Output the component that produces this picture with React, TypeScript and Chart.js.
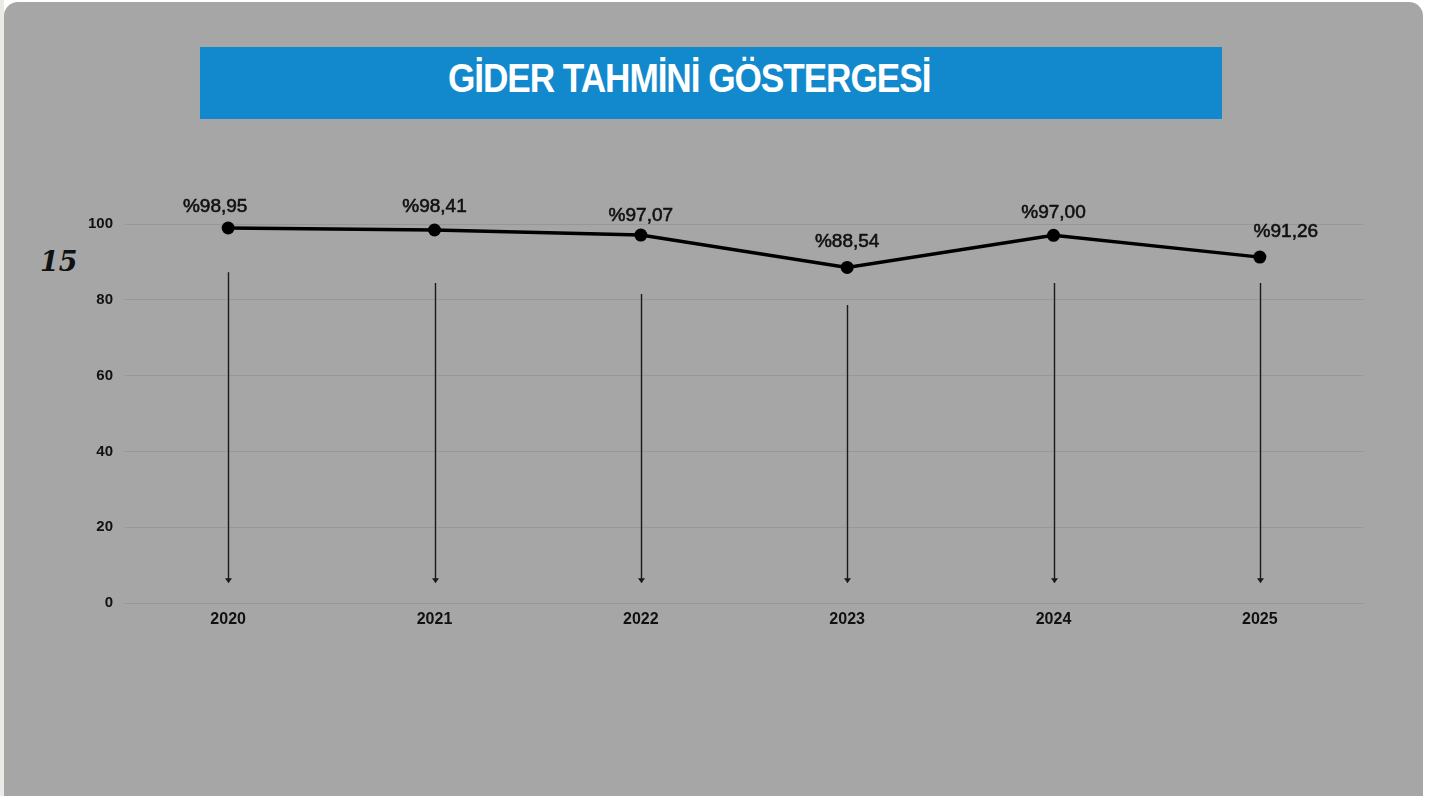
import React, { useEffect, useRef } from "react";
import { Chart, registerables } from "chart.js";

Chart.register(...registerables);

const years = ["2020", "2021", "2022", "2023", "2024", "2025"];
const values = [98.95, 98.41, 97.07, 88.54, 97.0, 91.26];
const valueLabels = ["%98,95", "%98,41", "%97,07", "%88,54", "%97,00", "%91,26"];
const arrowTops = [87.3, 84.4, 81.5, 78.6, 84.4, 84.4];
const arrowTip = 5.2;
const yTicks = [0, 20, 40, 60, 80, 100];

const labelDx = [-13, 0, 0, 0, 0, 26];
const labelDy = [-21, -23, -19, -26, -23, -25];

const decorPlugin = {
  id: "decor",
  afterDatasetsDraw(chart: any) {
    const { ctx, scales } = chart;
    const xs = scales.x;
    const ys = scales.y;
    ctx.save();
    // arrows
    ctx.strokeStyle = "#1a1a1a";
    ctx.fillStyle = "#1a1a1a";
    ctx.lineWidth = 1.4;
    years.forEach((_, i) => {
      const x = Math.round(xs.getPixelForValue(i)) + 0.5;
      const y0 = ys.getPixelForValue(arrowTops[i]);
      const y1 = ys.getPixelForValue(arrowTip);
      ctx.beginPath();
      ctx.moveTo(x, y0);
      ctx.lineTo(x, y1 - 3);
      ctx.stroke();
      ctx.beginPath();
      ctx.moveTo(x - 3.5, y1 - 5);
      ctx.lineTo(x + 3.5, y1 - 5);
      ctx.lineTo(x, y1);
      ctx.closePath();
      ctx.fill();
    });
    // value labels
    const meta = chart.getDatasetMeta(0);
    ctx.fillStyle = "#111";
    ctx.strokeStyle = "#111";
    ctx.lineWidth = 0.6;
    ctx.font = "19px 'Liberation Sans', Arial, sans-serif";
    ctx.textAlign = "center";
    ctx.textBaseline = "middle";
    meta.data.forEach((pt: any, i: number) => {
      ctx.fillText(valueLabels[i], pt.x + labelDx[i], pt.y + labelDy[i]);
      ctx.strokeText(valueLabels[i], pt.x + labelDx[i], pt.y + labelDy[i]);
    });
    ctx.restore();
  },
};

export default function App() {
  const ref = useRef<HTMLCanvasElement | null>(null);

  useEffect(() => {
    if (!ref.current) return;
    const chart = new Chart(ref.current, {
      type: "line",
      data: {
        labels: years,
        datasets: [
          {
            data: values,
            borderColor: "#000",
            backgroundColor: "#000",
            borderWidth: 3.5,
            pointRadius: 6.5,
            pointBackgroundColor: "#000",
            pointBorderWidth: 0,
            tension: 0,
            clip: false as any,
          },
        ],
      },
      options: {
        animation: false,
        responsive: false,
        devicePixelRatio: 1,
        layout: { padding: { left: 0, right: 82, top: 224, bottom: 0 } },
        plugins: {
          legend: { display: false },
          tooltip: { enabled: false },
          title: { display: false },
        },
        scales: {
          x: {
            offset: true,
            grid: { display: false, drawTicks: false },
            border: { display: false },
            ticks: {
              color: "#111",
              padding: 7,
              font: { family: "'Liberation Sans', Arial, sans-serif", size: 16, weight: "bold" },
            },
            afterFit: (s: any) => {
              s.height = 193;
            },
          },
          y: {
            min: 0,
            max: 100,
            afterBuildTicks: (s: any) => {
              s.ticks = yTicks.map((v) => ({ value: v }));
            },
            grid: { color: "#979797", lineWidth: 1, drawTicks: false },
            border: { display: false },
            ticks: {
              color: "#111",
              padding: 12,
              font: { family: "'Liberation Sans', Arial, sans-serif", size: 15, weight: "bold" },
            },
            afterFit: (s: any) => {
              s.width = 125;
            },
          },
        },
      },
      plugins: [decorPlugin],
    });
    return () => chart.destroy();
  }, []);

  return (
    <div
      style={{
        position: "fixed",
        left: 0,
        top: 0,
        width: 1445,
        height: 796,
        background: "#ffffff",
        overflow: "hidden",
      }}
    >
      <div
        style={{
          position: "absolute",
          left: 0,
          top: 0,
          width: 4,
          height: 796,
          background: "#eaeae6",
        }}
      />
      <div
        style={{
          position: "absolute",
          left: 4,
          top: 2,
          width: 1419,
          height: 830,
          background: "#a6a6a6",
          borderRadius: 14,
        }}
      />
      <div
        style={{
          position: "absolute",
          left: 200,
          top: 47,
          width: 1022,
          height: 72,
          background: "#1389cd",
        }}
      />
      <div
        style={{
          position: "absolute",
          left: 200,
          top: 47,
          width: 1022,
          height: 72,
          display: "flex",
          alignItems: "center",
          justifyContent: "center",
        }}
      >
        <span
          style={{
            color: "#ffffff",
            fontFamily: "'Liberation Sans', Arial, sans-serif",
            fontWeight: "bold",
            fontSize: 40,
            lineHeight: "40px",
            letterSpacing: "-1.2px",
            whiteSpace: "nowrap",
            display: "inline-block",
            transform: "translate(-22px, -5px) scaleX(0.88)",
          }}
        >
          GİDER TAHMİNİ GÖSTERGESİ
        </span>
      </div>
      <div
        style={{
          position: "absolute",
          left: 40,
          top: 246,
          fontFamily: "'DejaVu Serif', serif",
          fontWeight: "bold",
          fontStyle: "italic",
          fontSize: 27,
          lineHeight: "32px",
          color: "#111",
        }}
      >
        15
      </div>
      <canvas
        ref={ref}
        width={1445}
        height={796}
        style={{ position: "absolute", left: 0, top: 0, width: 1445, height: 796 }}
      />
    </div>
  );
}
